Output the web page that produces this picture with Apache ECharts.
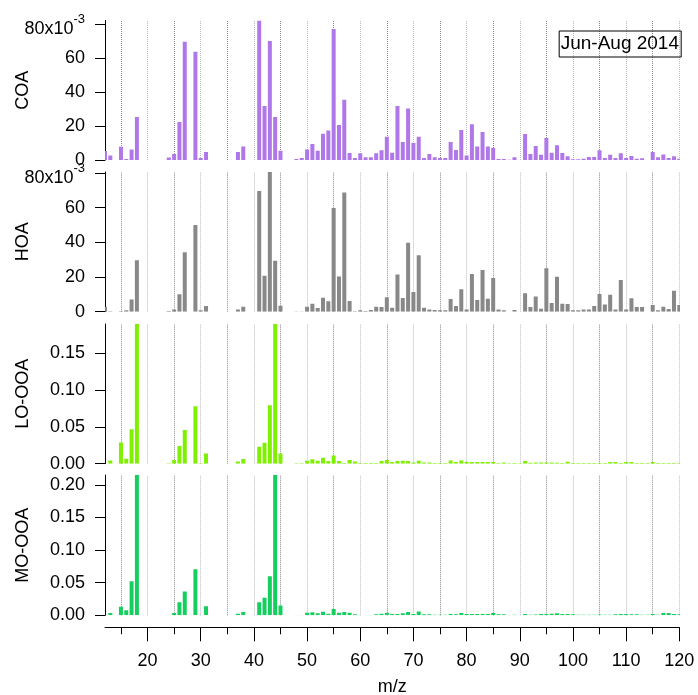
<!DOCTYPE html>
<html>
<head>
<meta charset="utf-8">
<script src="https://cdn.jsdelivr.net/npm/echarts@6/dist/echarts.min.js"></script>
<style>
  html, body { margin: 0; padding: 0; background: #fff; }
  #chart { width: 698px; height: 695px; }
</style>
</head>
<body>
<div id="chart"></div>
<script>
var chartDom = document.getElementById('chart');
var myChart = echarts.init(chartDom);

// m/z values 12..120
const mz = [
  12, 13, 14, 15, 16, 17, 18, 19, 20, 21,
  22, 23, 24, 25, 26, 27, 28, 29, 30, 31,
  32, 33, 34, 35, 36, 37, 38, 39, 40, 41,
  42, 43, 44, 45, 46, 47, 48, 49, 50, 51,
  52, 53, 54, 55, 56, 57, 58, 59, 60, 61,
  62, 63, 64, 65, 66, 67, 68, 69, 70, 71,
  72, 73, 74, 75, 76, 77, 78, 79, 80, 81,
  82, 83, 84, 85, 86, 87, 88, 89, 90, 91,
  92, 93, 94, 95, 96, 97, 98, 99, 100, 101,
  102, 103, 104, 105, 106, 107, 108, 109, 110, 111,
  112, 113, 114, 115, 116, 117, 118, 119, 120
];

// COA and HOA in units of 1e-3
const coa = [
  5.3, 2.6, null, 7.8, 0.6, 6.1, 25.3, null, null, null,
  null, null, 1.4, 3.5, 22.4, 69.5, null, 63.7, 1.2, 4.7,
  null, null, null, null, null, 4.7, 7.9, null, null, 82,
  31.8, 70, 25.3, 5.5, null, null, 0.6, 1.2, 6.1, 9.4,
  5.5, 15.5, 17.3, 77, 20.6, 35.4, 4.1, 1.2, 3.9, 1.6,
  1.6, 3.9, 5.7, 13.6, 4.3, 31.8, 10.6, 30.3, 10.0, 13.6,
  1.2, 3.5, 1.6, 1.2, 1.2, 10.6, 5.9, 17.7, 2.6, 21,
  7.9, 16.5, 7.9, 7.1, 0.6, 0.6, 0.2, 1.6, null, 15.3,
  3.5, 8.3, 3.1, 13, 4.3, 8.6, 4.1, 2.2, 0.4, 0.4,
  0.8, 1.8, 1.8, 5.7, 1.2, 3.1, 1.2, 3.9, 1.2, 2.4,
  0.8, 1.0, null, 4.7, 1.6, 3.3, 1.2, 2.2, 0.8
];

const hoa = [
  2.9, 0.2, null, 0.3, 0.8, 7.1, 29.6, null, null, null,
  null, null, 0.4, 1.2, 10, 34.2, null, 50, 0.8, 3.3,
  null, null, null, null, null, 1.3, 2.9, null, null, 69.5,
  20.7, 80.5, 29.4, 3.5, null, null, 0.1, 0.1, 2.9, 4.6,
  2.1, 8.1, 6, 59.7, 20.3, 68.7, 6.1, 0.2, 0.8, 0.4,
  1, 2.9, 2.7, 8.3, 2.3, 21.5, 7.9, 39.7, 11.3, 32.6,
  2.3, 1.3, 1, 0.8, 0.8, 7.3, 3.3, 13, 1.2, 21.7,
  6.7, 24, 7.5, 19.4, 1.3, 0.8, null, 1, null, 10.6,
  2.7, 8.8, 1.7, 25.1, 5, 20.2, 4.6, 4.4, 0.8, 0.8,
  1.3, 1.3, 3.3, 10.2, 4.2, 9.8, 1.2, 18.2, 1.2, 7.7,
  2.7, 2.7, null, 3.8, 0.8, 2.9, 1.5, 12.1, 3.8
];

const looa = [
  null, 0.0045, null, 0.029, 0.0068, 0.047, 0.19, null, null, null,
  null, null, 0.0005, 0.005, 0.024, 0.046, null, 0.078, 0.0005, 0.014,
  null, null, null, null, null, 0.003, 0.0064, null, null, 0.023,
  0.0286, 0.0795, 0.19, 0.014, null, null, 0.0005, 0.0005, 0.004, 0.006,
  0.004, 0.008, 0.0036, 0.011, 0.0036, 0.001, 0.005, 0.003, 0.0008, 0.0008,
  0.0008, 0.0008, 0.0036, 0.005, 0.0023, 0.0036, 0.004, 0.0036, 0.0018, 0.004,
  0.0018, 0.0018, 0.0008, 0.0008, 0.0008, 0.0045, 0.0023, 0.0045, 0.0027, 0.0023,
  0.0023, 0.0023, 0.0023, 0.0023, 0.0009, 0.0018, 0.0005, 0.0008, 0.0005, 0.0036,
  0.0014, 0.0018, 0.0018, 0.0018, 0.0018, 0.0014, 0.0009, 0.0027, 0.001, 0.001,
  0.001, 0.001, 0.001, 0.001, 0.001, 0.0023, 0.0023, 0.001, 0.0023, 0.0023,
  0.0009, 0.0009, 0.0008, 0.0023, 0.001, 0.001, 0.0008, 0.001, 0.001
];

const mooa = [
  null, 0.0036, null, 0.013, 0.0076, 0.052, 0.215, null, null, null,
  null, null, 0.0005, 0.0036, 0.020, 0.0365, null, 0.0705, 0.0005, 0.014,
  null, null, null, null, null, 0.0025, 0.005, null, null, 0.020,
  0.027, 0.060, 0.215, 0.015, null, null, 0.0004, 0.0004, 0.004, 0.0045,
  0.003, 0.0056, 0.0025, 0.0096, 0.004, 0.005, 0.004, 0.0015, 0.0005, 0.0005,
  0.0005, 0.0015, 0.0025, 0.004, 0.002, 0.002, 0.003, 0.005, 0.002, 0.006,
  0.0015, 0.0015, 0.0008, 0.0008, 0.0008, 0.002, 0.0015, 0.0035, 0.002, 0.002,
  0.002, 0.002, 0.002, 0.0035, 0.0015, 0.0015, 0.0005, 0.0008, 0.0005, 0.002,
  0.001, 0.0012, 0.002, 0.002, 0.0025, 0.003, 0.002, 0.002, 0.0015, 0.001,
  0.001, 0.001, 0.001, 0.0012, 0.0008, 0.0008, 0.0015, 0.002, 0.002, 0.0015,
  0.0015, 0.001, 0.0008, 0.002, 0.001, 0.0035, 0.0035, 0.002, 0.0015
];

// axis ticks
const xMajor = [20, 30, 40, 50, 60, 70, 80, 90, 100, 110, 120];
const xMinor = [15, 25, 35, 45, 55, 65, 75, 85, 95, 105, 115];
const gridVals = [15, 20, 25, 30, 35, 40, 45, 50, 55, 60, 65, 70, 75, 80, 85, 90, 95, 100, 105, 110, 115, 120];
const tickE3 = [0, 20, 40, 60, 80];
const tickLo = [0, 0.05, 0.10, 0.15];
const tickMo = [0, 0.05, 0.10, 0.15, 0.20];

const font = 'Liberation Sans, Arial, Helvetica, sans-serif';

const panels = [
  { name: 'COA', data: coa, color: '#b077e8', max: 82, ticks: tickE3, sci: true, top: 20.5, height: 139.5 },
  { name: 'HOA', data: hoa, color: '#888888', max: 80.5, ticks: tickE3, sci: true, top: 172, height: 139.7 },
  { name: 'LO-OOA', data: looa, color: '#7ef000', max: 0.19, ticks: tickLo, sci: false, top: 324, height: 139.7 },
  { name: 'MO-OOA', data: mooa, color: '#14cf5e', max: 0.215, ticks: tickMo, sci: false, top: 475, height: 140.3 }
];

// thin bars drawn through the axis scales (a bar series would stretch the fixed x range)
function renderStick(params, api) {
  const base = api.coord([api.value(0), 0]);
  const top = api.coord([api.value(0), api.value(1)]);
  return {
    type: 'rect',
    shape: { x: base[0] - 2, y: top[1], width: 4, height: base[1] - top[1] },
    style: api.style()
  };
}

const grids = [], xAxes = [], yAxes = [], series = [];

panels.forEach(function (p, i) {
  grids.push({ left: 105, right: 18.7, top: p.top, height: p.height, outerBoundsMode: 'none', containLabel: false });

  xAxes.push({
    gridIndex: i, type: 'value', min: 12, max: 120, show: false
  });

  yAxes.push({
    gridIndex: i, type: 'value', min: 0, max: p.max,
    name: p.name, nameLocation: 'middle', nameGap: 73, nameMoveOverlap: false,
    nameTextStyle: { fontSize: 18, color: '#000', fontFamily: font },
    axisLine: { show: true, lineStyle: { color: '#000', width: 1 } },
    axisTick: { show: true, customValues: p.ticks, length: 10, lineStyle: { color: '#000' } },
    splitLine: { show: false },
    axisLabel: {
      customValues: p.ticks, fontSize: 18, color: '#000', fontFamily: font, margin: 20,
      formatter: function (v) {
        if (p.sci) return v === 80 ? '{m|80x10}{s|-3}' : String(v);
        return v.toFixed(2);
      },
      rich: {
        m: { fontSize: 18, color: '#000', fontFamily: font, padding: [10, 0, 0, 0] },
        s: { fontSize: 13, color: '#000', fontFamily: font, padding: [0, 0, 9, 0] }
      }
    }
  });

  series.push({
    type: 'custom',
    xAxisIndex: i, yAxisIndex: i,
    clip: true,
    z: 2,
    renderItem: renderStick,
    itemStyle: { color: p.color },
    encode: { x: 0, y: 1 },
    data: mz.map(function (m, k) { return [m, p.data[k]]; })
            .filter(function (d) { return d[1] !== null; }),
    markLine: {
      silent: true, z: 1, symbol: ['none', 'none'], animation: false,
      label: { show: false },
      data: gridVals.map(function (v) {
        return { xAxis: v, lineStyle: { color: v % 10 ? '#8a8a8a' : '#bdbdbd', type: 'dotted', width: 1 } };
      })
    }
  });
});

// bottom axis with major ticks and labels
xAxes.push({
  gridIndex: 3, type: 'value', min: 12, max: 120, position: 'bottom', offset: 12,
  name: 'm/z', nameLocation: 'middle', nameGap: 51, nameMoveOverlap: false,
  nameTextStyle: { fontSize: 18, color: '#000', fontFamily: font },
  axisLine: { show: true, lineStyle: { color: '#000', width: 1 } },
  axisTick: { show: true, customValues: xMajor, length: 14, lineStyle: { color: '#000' } },
  axisLabel: { customValues: xMajor, fontSize: 18, color: '#000', fontFamily: font, margin: 25 },
  splitLine: { show: false }
});
// bottom axis minor ticks
xAxes.push({
  gridIndex: 3, type: 'value', min: 12, max: 120, position: 'bottom', offset: 12,
  axisLine: { show: false },
  axisTick: { show: true, customValues: xMinor, length: 7, lineStyle: { color: '#000' } },
  axisLabel: { show: false },
  splitLine: { show: false }
});

var option = {
  animation: false,
  backgroundColor: '#fff',
  title: {
    text: 'Jun-Aug 2014',
    right: 17, top: 30.5,
    borderColor: '#000', borderWidth: 1,
    padding: [3, 2, 3, 2],
    textStyle: { fontSize: 19, fontWeight: 'normal', color: '#000', fontFamily: font, lineHeight: 21 }
  },
  grid: grids,
  xAxis: xAxes,
  yAxis: yAxes,
  series: series
};

option && myChart.setOption(option);

window.addEventListener('resize', function () {
  myChart.resize();
});
</script>
</body>
</html>
